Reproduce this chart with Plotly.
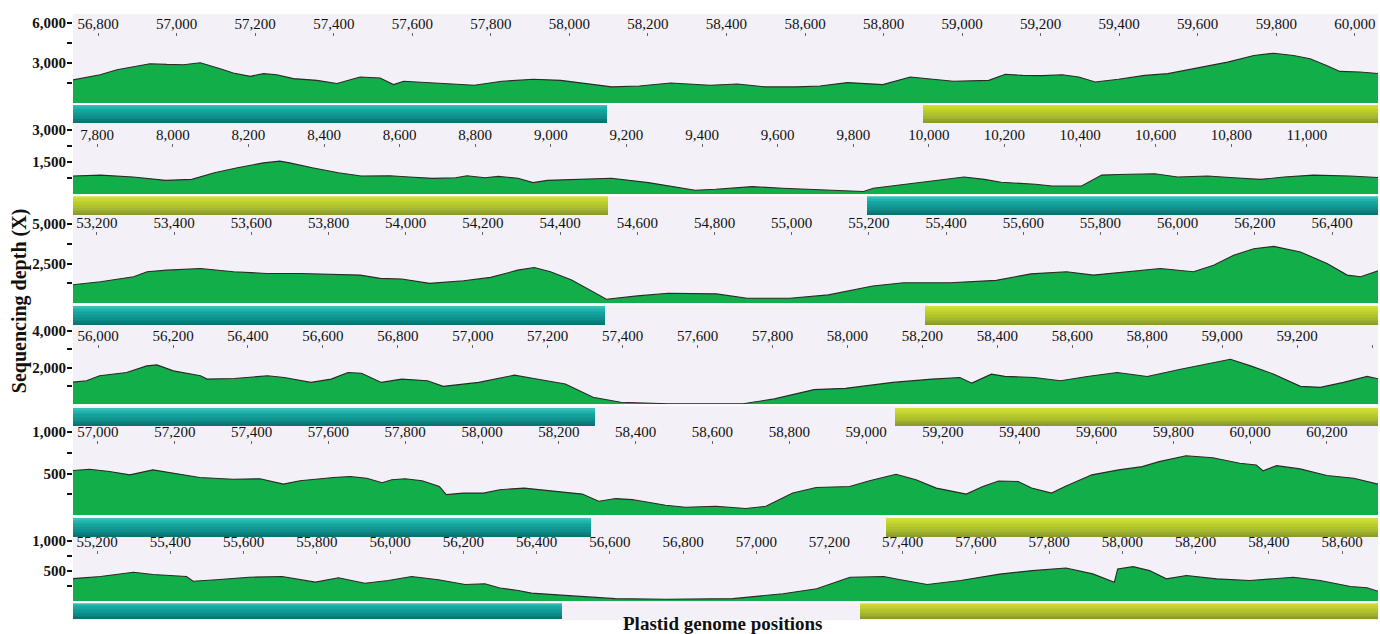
import plotly.graph_objects as go

W, H = 1380, 634

# ---------------- data ----------------
# Panel 1
p1_pos = [56730, 56771, 56805, 56848, 56890, 56932, 56975, 57017, 57060, 57077, 57111, 57144,
          57187, 57221, 57255, 57297, 57357, 57408, 57467, 57518, 57552, 57578, 57678, 57758,
          57828, 57908, 57978, 58028, 58108, 58178, 58258, 58358, 58428, 58498, 58578, 58638,
          58708, 58798, 58868, 58978, 59068, 59110, 59154, 59204, 59255, 59297, 59339, 59398,
          59465, 59524, 59592, 59676, 59743, 59794, 59844, 59886, 59928, 59962, 60013, 60065]
p1_depth = [1700, 1950, 2120, 2490, 2740, 2940, 2890, 2870, 3010, 2870, 2570, 2250,
            2000, 2200, 2120, 1830, 1700, 1460, 1950, 1870, 1380, 1630, 1460, 1330,
            1630, 1780, 1700, 1530, 1210, 1280, 1500, 1330, 1430, 1210, 1210, 1280,
            1530, 1380, 1950, 1630, 1700, 2150, 2070, 2050, 2120, 1950, 1580, 1780,
            2070, 2200, 2570, 3060, 3560, 3730, 3560, 3310, 2810, 2370, 2320, 2200]
p1_ticks = [56800, 57000, 57200, 57400, 57600, 57800, 58000, 58200, 58400, 58600, 58800,
            59000, 59200, 59400, 59600, 59800, 60000]
p1_gene_start = [56736, 58900]
p1_gene_end = [58095, 60059]
p1_gene_kind = ["teal", "olive"]

# Panel 2
p2_pos = [7730, 7809, 7895, 7981, 8050, 8110, 8171, 8240, 8283, 8309, 8369, 8438, 8498,
          8574, 8626, 8687, 8748, 8778, 8826, 8861, 8913, 8953, 8991, 9080, 9160, 9258,
          9382, 9436, 9533, 9613, 9747, 9827, 9853, 9924, 9996, 10093, 10147, 10191, 10282,
          10326, 10404, 10457, 10501, 10597, 10658, 10737, 10807, 10877, 10939, 11017,
          11114, 11195]
p2_depth = [845, 890, 800, 645, 690, 1000, 1230, 1460, 1540, 1460, 1230, 1000, 845,
            860, 800, 740, 770, 860, 770, 830, 740, 540, 645, 690, 740, 540,
            185, 230, 355, 277, 185, 125, 277, 430, 615, 800, 690, 560, 460,
            385, 385, 890, 920, 955, 800, 845, 770, 690, 800, 890,
            845, 770]
p2_ticks = [7800, 8000, 8200, 8400, 8600, 8800, 9000, 9200, 9400, 9600, 9800, 10000,
            10200, 10400, 10600, 10800, 11000]
p2_gene_start = [7736, 9836]
p2_gene_end = [9152, 11188]
p2_gene_kind = ["olive", "teal"]

# Panel 3
p3_pos = [53130, 53209, 53295, 53330, 53381, 53468, 53554, 53640, 53727, 53813, 53882,
          53934, 53990, 54062, 54150, 54220, 54290, 54333, 54375, 54430, 54480, 54520,
          54600, 54680, 54805, 54885, 54995, 55095, 55210, 55290, 55410, 55530, 55620,
          55712, 55782, 55868, 55955, 56041, 56093, 56145, 56197, 56249, 56318, 56387,
          56439, 56474, 56525]
p3_depth = [1145, 1354, 1667, 1979, 2083, 2190, 1979, 1875, 1875, 1833, 1771,
            1563, 1520, 1250, 1417, 1625, 2083, 2250, 1979, 1458, 792, 250,
            458, 625, 583, 313, 313, 521, 1083, 1292, 1292, 1440, 1850,
            1979, 1771, 1979, 2188, 1979, 2396, 3021, 3438, 3583, 3229, 2500,
            1771, 1667, 2083]
p3_ticks = [53200, 53400, 53600, 53800, 54000, 54200, 54400, 54600, 54800, 55000, 55200,
            55400, 55600, 55800, 56000, 56200, 56400]
p3_gene_start = [53138, 55345]
p3_gene_end = [54515, 56519]
p3_gene_kind = ["teal", "olive"]

# Panel 4
p4_pos = [55925, 55969, 56004, 56076, 56130, 56157, 56201, 56273, 56291, 56363, 56452,
          56497, 56568, 56622, 56667, 56703, 56756, 56810, 56879, 56921, 57016, 57111,
          57163, 57247, 57321, 57395, 57521, 57721, 57805, 57911, 57995, 58121, 58226,
          58300, 58332, 58384, 58420, 58498, 58569, 58640, 58720, 58800, 58889, 58960,
          59022, 59076, 59138, 59209, 59262, 59324, 59387, 59420]
p4_depth = [1190, 1280, 1550, 1730, 2090, 2145, 1820, 1550, 1370, 1405, 1550,
            1460, 1190, 1370, 1730, 1690, 1190, 1370, 1280, 975, 1190, 1585,
            1405, 1100, 380, 110, 25, 25, 290, 795, 865, 1190, 1370,
            1460, 1150, 1640, 1520, 1460, 1280, 1515, 1730, 1515, 1910, 2180,
            2450, 2090, 1640, 975, 920, 1190, 1515, 1370]
p4_ticks = [56000, 56200, 56400, 56600, 56800, 57000, 57200, 57400, 57600, 57800, 58000,
            58200, 58400, 58600, 58800, 59000, 59200, 59400]
p4_tick_text = ["56,000", "56,200", "56,400", "56,600", "56,800", "57,000", "57,200",
                "57,400", "57,600", "57,800", "58,000", "58,200", "58,400", "58,600",
                "58,800", "59,000", "59,200", ""]
p4_gene_start = [55933, 58128]
p4_gene_end = [57326, 59416]
p4_gene_kind = ["teal", "olive"]

# Panel 5
p5_pos = [56925, 56978, 57030, 57083, 57143, 57196, 57265, 57352, 57422, 57483, 57526,
          57613, 57657, 57700, 57740, 57765, 57800, 57844, 57889, 57907, 57951, 58004,
          58046, 58110, 58200, 58261, 58304, 58348, 58391, 58478, 58530, 58609, 58687,
          58739, 58809, 58870, 58957, 59009, 59078, 59130, 59183, 59261, 59304, 59345,
          59396, 59431, 59483, 59518, 59588, 59658, 59719, 59763, 59833, 59903, 59973,
          60016, 60034, 60069, 60130, 60200, 60270, 60340]
p5_depth = [532, 551, 524, 484, 544, 504, 452, 432, 437, 373, 413,
            452, 464, 444, 390, 425, 437, 413, 345, 246, 265, 265,
            306, 325, 286, 253, 167, 199, 187, 119, 95, 107, 80,
            107, 265, 333, 345, 413, 492, 425, 325, 253, 345, 410,
            405, 325, 265, 345, 484, 544, 583, 643, 714, 690, 623,
            603, 532, 595, 556, 476, 444, 365]
p5_ticks = [57000, 57200, 57400, 57600, 57800, 58000, 58200, 58400, 58600, 58800, 59000,
            59200, 59400, 59600, 59800, 60000, 60200]
p5_gene_start = [56935, 59053]
p5_gene_end = [58283, 60333]
p5_gene_kind = ["teal", "olive"]

# Panel 6
p6_pos = [55125, 55209, 55299, 55353, 55444, 55462, 55525, 55615, 55705, 55796, 55859,
          55931, 55995, 56059, 56132, 56205, 56259, 56300, 56350, 56386, 56478, 56615,
          56753, 56936, 57073, 57165, 57256, 57348, 57394, 57467, 57558, 57665, 57754,
          57846, 57919, 57978, 57987, 58029, 58074, 58120, 58175, 58257, 58348, 58467,
          58540, 58623, 58668, 58705]
p6_depth = [372, 410, 480, 443, 410, 333, 356, 399, 410, 317, 389,
            300, 344, 410, 356, 279, 290, 220, 180, 136, 98, 44,
            33, 44, 126, 208, 399, 410, 356, 279, 344, 450, 508,
            552, 454, 317, 536, 574, 508, 372, 426, 372, 344, 399,
            344, 246, 225, 153]
p6_ticks = [55200, 55400, 55600, 55800, 56000, 56200, 56400, 56600, 56800, 57000, 57200,
            57400, 57600, 57800, 58000, 58200, 58400, 58600]
p6_gene_start = [55134, 57284]
p6_gene_end = [56470, 58698]
p6_gene_kind = ["teal", "olive"]

# depth-axis ticks
p1_yticks, p1_ytext = [1500, 3000, 4500, 6000], ["", "3,000", "", "6,000"]
p2_yticks, p2_ytext = [750, 1500, 2250, 3000], ["", "1,500", "", "3,000"]
p3_yticks, p3_ytext = [1250, 2500, 3750, 5000], ["", "2,500", "", "5,000"]
p4_yticks, p4_ytext = [1000, 2000, 3000, 4000], ["", "2,000", "", "4,000"]
p5_yticks, p5_ytext = [250, 500, 750, 1000], ["", "500", "", "1,000"]
p6_yticks, p6_ytext = [250, 500, 750, 1000], ["", "500", "", "1,000"]

x_ranges = [(56736, 60059), (7736, 11188), (53138, 56519),
            (55933, 59416), (56935, 60333), (55134, 58698)]

# ---------------- layout geometry (pixels) ----------------
# cov_top, zero_px, ref_tick_px, ref_tick_val, gene_bottom, bar_top, bar_bottom, xline
geom = [
    (8, 98, 17, 6000, 121, 100, 118, 26),
    (121, 190, 125, 3000, 213, 193, 211, 138),
    (213, 300, 220, 5000, 324, 304, 322, 227),
    (324, 402, 328, 4000, 426, 407, 424, 341),
    (426, 514, 430, 1000, 538, 518, 536, 438),
    (538, 601, 540, 1000, 620, 603, 619, 549),
]

PLOT_L, PLOT_R = 73, 1378


def fy(px):
    return (H - px) / H


SERIF = "Liberation Serif"
GREEN = "#12AE4A"
LAV = "#F3F0F8"


def lerp_hex(c0, c1, t):
    a = [int(c0[i:i + 2], 16) for i in (1, 3, 5)]
    b = [int(c1[i:i + 2], 16) for i in (1, 3, 5)]
    return "#" + "".join(f"{round(a[k] + (b[k] - a[k]) * t):02x}" for k in range(3))


def grad(stops, t):
    for (t0, c0), (t1, c1) in zip(stops, stops[1:]):
        if t <= t1:
            return lerp_hex(c0, c1, (t - t0) / (t1 - t0) if t1 > t0 else 0)
    return stops[-1][1]


STOPS = {
    "teal": [(0, "#3EC4BC"), (0.3, "#16A9A3"), (0.75, "#0E8C88"), (1, "#0A6E6B")],
    "olive": [(0, "#D2E23A"), (0.3, "#BFD22B"), (0.75, "#A4B52E"), (1, "#87962C")],
}

panels = [
    (p1_pos, p1_depth, p1_ticks, None, p1_yticks, p1_ytext, p1_gene_start, p1_gene_end, p1_gene_kind),
    (p2_pos, p2_depth, p2_ticks, None, p2_yticks, p2_ytext, p2_gene_start, p2_gene_end, p2_gene_kind),
    (p3_pos, p3_depth, p3_ticks, None, p3_yticks, p3_ytext, p3_gene_start, p3_gene_end, p3_gene_kind),
    (p4_pos, p4_depth, p4_ticks, p4_tick_text, p4_yticks, p4_ytext, p4_gene_start, p4_gene_end, p4_gene_kind),
    (p5_pos, p5_depth, p5_ticks, None, p5_yticks, p5_ytext, p5_gene_start, p5_gene_end, p5_gene_kind),
    (p6_pos, p6_depth, p6_ticks, None, p6_yticks, p6_ytext, p6_gene_start, p6_gene_end, p6_gene_kind),
]

fig = go.Figure()
layout = {}
shapes = [dict(type="rect", xref="paper", yref="paper", x0=0, x1=1,
               y0=fy(620), y1=fy(8), fillcolor=LAV, line=dict(width=0), layer="below")]

N_STRIPS = 12
for i, (pos, dep, xt, xtt, yt, ytt, gs, ge, gk) in enumerate(panels):
    n = i + 1
    cov_top, zero_px, rt_px, rt_val, gene_bot, bar_top, bar_bot, xline = geom[i]
    vpp = rt_val / (zero_px - rt_px)
    top_val = rt_val + (rt_px - cov_top) * vpp
    xa = "x" if n == 1 else f"x{n}"
    ya = "y" if n == 1 else f"y{n}"
    gy = f"y{n + 6}"

    fig.add_trace(go.Scatter(x=pos, y=dep, mode="lines", fill="tozeroy",
                             fillcolor=GREEN, line=dict(color="#2A2A2A", width=1.1),
                             xaxis=xa, yaxis=ya, showlegend=False, hoverinfo="x+y"))

    # gene bars drawn as stacked horizontal strips (vertical gradient)
    h = (bar_bot - bar_top) / N_STRIPS
    for s in range(N_STRIPS):
        t = (s + 0.5) / N_STRIPS
        fig.add_trace(go.Bar(orientation="h",
                             y=[bar_top + (s + 0.5) * h] * len(gs),
                             x=[e - b for b, e in zip(gs, ge)], base=gs,
                             width=h * 1.15,
                             marker=dict(color=[grad(STOPS[k], t) for k in gk], line=dict(width=0)),
                             xaxis=xa, yaxis=gy, showlegend=False, hoverinfo="skip"))

    layout[f"xaxis{'' if n == 1 else n}"] = dict(
        domain=[0, 1], range=list(x_ranges[i]), anchor="free", position=fy(xline),
        side="top", tickmode="array", tickvals=xt,
        ticktext=xtt if xtt is not None else [f"{v:,}" for v in xt],
        ticks="inside", ticklen=3, tickwidth=1, tickcolor="#666",
        showgrid=False, zeroline=False, showline=False,
        tickfont=dict(family=SERIF, size=15, color="#111"), fixedrange=True)
    layout[f"yaxis{'' if n == 1 else n}"] = dict(
        domain=[fy(zero_px), fy(cov_top)], range=[0, top_val], anchor=xa,
        tickmode="array", tickvals=yt, ticktext=ytt,
        ticks="outside", ticklen=5, tickwidth=2, tickcolor="#111",
        ticklabelstandoff=-2,
        showgrid=False, zeroline=False, showline=False,
        tickfont=dict(family=SERIF, size=15, color="#111", weight="bold"), fixedrange=True)
    layout[f"yaxis{n + 6}"] = dict(
        domain=[fy(gene_bot), fy(zero_px)], range=[gene_bot, zero_px], anchor=xa,
        visible=False, fixedrange=True)
    # thin white separator under the coverage track
    shapes.append(dict(type="line", xref="paper", yref="paper", x0=0, x1=1,
                       y0=fy(zero_px + 1), y1=fy(zero_px + 1),
                       line=dict(color="white", width=2)))

fig.update_layout(
    width=W, height=H,
    margin=dict(l=PLOT_L, r=W - PLOT_R, t=0, b=0),
    paper_bgcolor="white", plot_bgcolor="rgba(0,0,0,0)",
    barmode="overlay", bargap=0, showlegend=False,
    shapes=shapes,
    annotations=[
        dict(text="<b>Sequencing depth (X)</b>", textangle=-90, xref="paper", yref="paper",
             x=(19 - PLOT_L) / (PLOT_R - PLOT_L), y=fy(298), showarrow=False,
             font=dict(family=SERIF, size=20, color="#111"), xanchor="center", yanchor="middle"),
        dict(text="<b>Plastid genome positions</b>", xref="paper", yref="paper",
             x=(723 - PLOT_L) / (PLOT_R - PLOT_L), y=fy(623), showarrow=False,
             font=dict(family=SERIF, size=19, color="#111"), xanchor="center", yanchor="middle"),
    ],
    **layout,
)

fig.write_html(
    "out.html",
    config={"displayModeBar": False},
    post_script="document.documentElement.style.margin='0';document.body.style.margin='0';"
                "document.body.style.padding='0';document.body.style.overflow='hidden';",
)
